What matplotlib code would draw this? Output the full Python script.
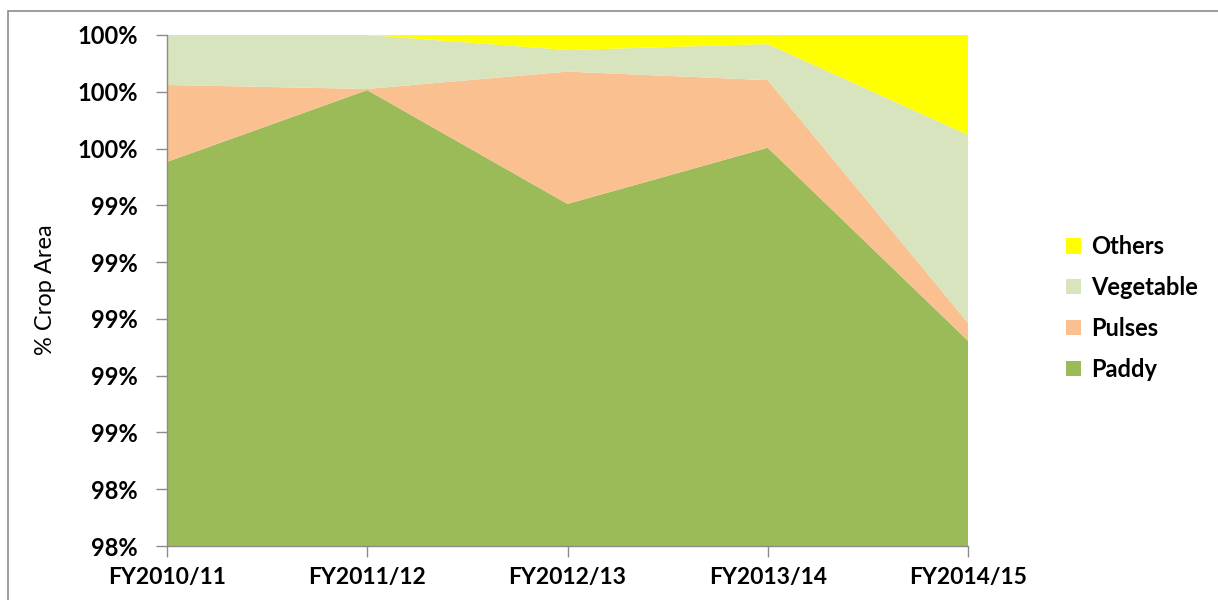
import numpy as np
import matplotlib
matplotlib.use("Agg")
import matplotlib.pyplot as plt
from matplotlib.ticker import PercentFormatter
from matplotlib.patches import Rectangle

years = ['FY2010/11', 'FY2011/12', 'FY2012/13', 'FY2013/14', 'FY2014/15']
paddy = [0.99553, 0.99806, 0.99405, 0.99603, 0.98923]
pulses = [0.00271, 0.00004, 0.00466, 0.00238, 0.00063]
vegetable = [0.00176, 0.00190, 0.00076, 0.00127, 0.00662]
others = [0.0, 0.0, 0.00053, 0.00032, 0.00352]
labels = ['Paddy', 'Pulses', 'Vegetable', 'Others']
colors = ['#9BBB59', '#FAC090', '#D7E4BD', '#FFFF00']

plt.rcParams['font.family'] = ['Lato', 'DejaVu Sans']

fig = plt.figure(figsize=(12.18, 6), dpi=100)
ax = fig.add_axes([167/1218, 1-546/600, (968-167)/1218, (546-35)/600])

x = np.arange(len(years))
ax.stackplot(x, paddy, pulses, vegetable, others, labels=labels, colors=colors, linewidth=0)

ax.set_xlim(0, len(years)-1)
ax.set_ylim(0.982, 1.0)
ax.set_yticks(np.linspace(0.982, 1.0, 10))
ax.yaxis.set_major_formatter(PercentFormatter(1, decimals=0))
ax.set_xticks(x)
ax.set_xticklabels(years)

for s in ['top', 'right']:
    ax.spines[s].set_visible(False)
for s in ['left', 'bottom']:
    ax.spines[s].set_color('#8c8c8c')
    ax.spines[s].set_linewidth(1)
ax.tick_params(axis='both', color='#8c8c8c', length=8, width=1, direction='out')
ax.tick_params(axis='y', pad=13)
ax.tick_params(axis='x', pad=7)
for t in ax.get_yticklabels():
    t.set_fontsize(17)
    t.set_fontweight('bold')
for t in ax.get_xticklabels():
    t.set_fontsize(16.5)
    t.set_fontweight('bold')

fig.text(45/1218, 1-290/600, '% Crop Area', rotation=90, fontsize=17, ha='center', va='center')

h, l = ax.get_legend_handles_labels()
fig.legend(h[::-1], l[::-1], loc='center left', bbox_to_anchor=(1066/1218, 1-308/600),
           frameon=False, borderpad=0, borderaxespad=0, handlelength=0.62, handleheight=0.62,
           handletextpad=0.45, labelspacing=0.75, prop={'size': 17, 'weight': 'bold'})

fig.patches.append(Rectangle((8/1218, -0.1), 1.2, 1-11/600+0.1, transform=fig.transFigure,
                             fill=False, edgecolor='#8c8c8c', linewidth=1.2))

fig.savefig('out.png', dpi=100)
